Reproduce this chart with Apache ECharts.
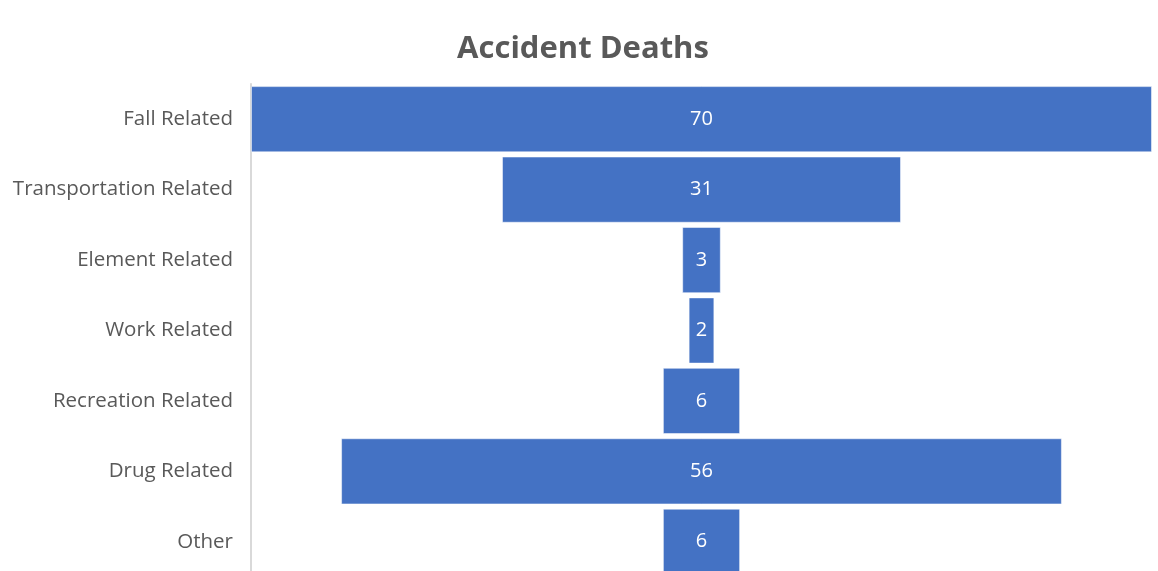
<!DOCTYPE html>
<html>
<head>
<meta charset="utf-8">
<script src="https://cdn.jsdelivr.net/npm/echarts@6/dist/echarts.min.js"></script>
<style>
  html, body { margin: 0; padding: 0; background: #fff; overflow: hidden; }
  #chart { width: 1158px; height: 580px; }
</style>
</head>
<body>
<div id="chart"></div>
<script>
const categories = ["Fall Related", "Transportation Related", "Element Related", "Work Related", "Recreation Related", "Drug Related", "Other"];
const deaths = [70, 31, 3, 2, 6, 56, 6];

// 居中用的透明占位
const maxVal = Math.max(...deaths);
const spacer = deaths.map((v) => (maxVal - v) / 2);

const myChart = echarts.init(document.getElementById("chart"));
myChart.setOption({
  animation: false,
  title: {
    text: "Accident Deaths",
    left: 578,
    top: 29,
    textAlign: "center",
    textStyle: {
      fontFamily: "Open Sans",
      fontWeight: "bold",
      fontSize: 31,
      color: "#595959",
    },
  },
  grid: {
    left: 251,
    right: 6,
    top: 84,
    bottom: 3,
  },
  xAxis: {
    type: "value",
    min: 0,
    max: maxVal,
    show: false,
  },
  yAxis: {
    type: "category",
    inverse: true,
    data: categories,
    axisLine: {
      lineStyle: { color: "#d9d9d9", width: 2 },
    },
    axisTick: { show: false },
    axisLabel: {
      fontFamily: "Open Sans",
      fontSize: 20.5,
      color: "#595959",
      margin: 18,
    },
  },
  series: [
    {
      name: "spacer",
      type: "bar",
      stack: "funnel",
      data: spacer,
      itemStyle: { color: "transparent" },
      barCategoryGap: "6%",
      silent: true,
    },
    {
      name: "deaths",
      type: "bar",
      stack: "funnel",
      data: deaths,
      barCategoryGap: "6%",
      itemStyle: {
        color: "#4472C4",
        borderColor: "rgba(255,255,255,0.5)",
        borderWidth: 1,
      },
      label: {
        show: true,
        position: "inside",
        fontFamily: "Open Sans",
        fontSize: 20,
        color: "#ffffff",
      },
    },
  ],
});
</script>
</body>
</html>
